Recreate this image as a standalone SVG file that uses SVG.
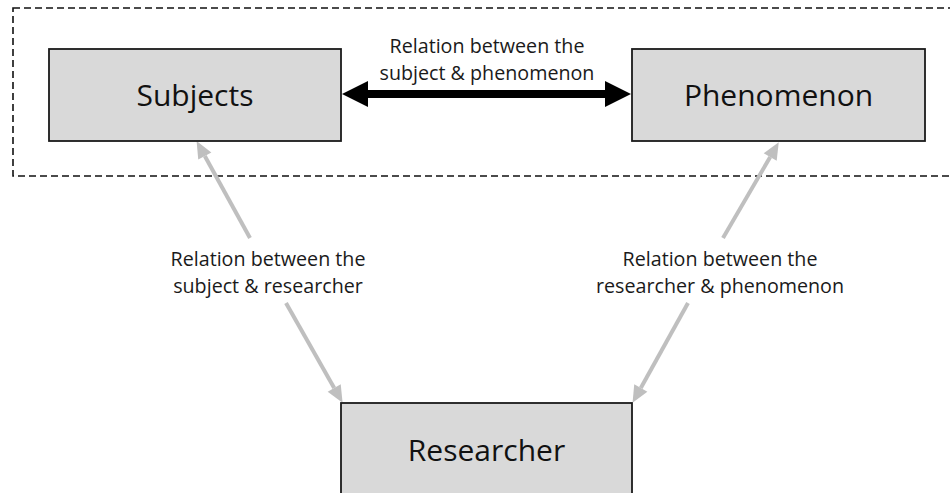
<svg xmlns="http://www.w3.org/2000/svg" width="950" height="493" viewBox="0 0 950 493">
  <style>
    .node rect { fill: #d9d9d9; stroke: #1a1a1a; stroke-width: 1.8; }
    .node text { font-family: "Open Sans", "Liberation Sans", sans-serif; font-size: 30px; fill: #111; text-anchor: middle; }
    .label { font-family: "Open Sans", "Liberation Sans", sans-serif; font-size: 19.7px; fill: #1a1a1a; text-anchor: middle; }
    .frame { fill: none; stroke: #111; stroke-width: 1.6; stroke-dasharray: 7 4; }
    .link { stroke: #bfbfbf; stroke-width: 4; fill: none; marker-end: url(#grayHead); }
    .main { stroke: #000; stroke-width: 8; fill: none; marker-start: url(#blackHead); marker-end: url(#blackHead); }
  </style>
  <defs>
    <marker id="grayHead" markerUnits="userSpaceOnUse" orient="auto" refX="0" refY="0" overflow="visible">
      <path d="M0,-7.5 L17,0 L0,7.5 z" fill="#bfbfbf"/>
    </marker>
    <marker id="blackHead" markerUnits="userSpaceOnUse" orient="auto-start-reverse" refX="0" refY="0" overflow="visible">
      <path d="M0,-13 L26,0 L0,13 z" fill="#000"/>
    </marker>
  </defs>

  <rect width="950" height="493" fill="#fff"/>

  <!-- dashed boundary around subjects and phenomenon -->
  <rect class="frame" x="13" y="8" width="945" height="168"/>

  <g id="connectors">
    <line class="main" x1="368" y1="94" x2="605" y2="94"/>
    <line class="link" x1="250" y1="238" x2="204.8" y2="156"/>
    <line class="link" x1="286" y1="303" x2="334.2" y2="388"/>
    <line class="link" x1="723" y1="238" x2="770.2" y2="157"/>
    <line class="link" x1="688" y1="303" x2="640.8" y2="388"/>
  </g>

  <g id="labels">
    <text class="label" x="487" y="53">Relation between the</text>
    <text class="label" x="487" y="80">subject &amp; phenomenon</text>
    <text class="label" x="268" y="266">Relation between the</text>
    <text class="label" x="268" y="293">subject &amp; researcher</text>
    <text class="label" x="720" y="266">Relation between the</text>
    <text class="label" x="720" y="293">researcher &amp; phenomenon</text>
  </g>

  <g id="subjects" class="node">
    <rect x="49" y="49" width="292" height="92"/>
    <text x="195" y="106">Subjects</text>
  </g>
  <g id="phenomenon" class="node">
    <rect x="632" y="49" width="293" height="92"/>
    <text x="778.5" y="106">Phenomenon</text>
  </g>
  <g id="researcher" class="node">
    <rect x="341" y="403" width="291" height="100"/>
    <text x="486.5" y="461">Researcher</text>
  </g>
</svg>
